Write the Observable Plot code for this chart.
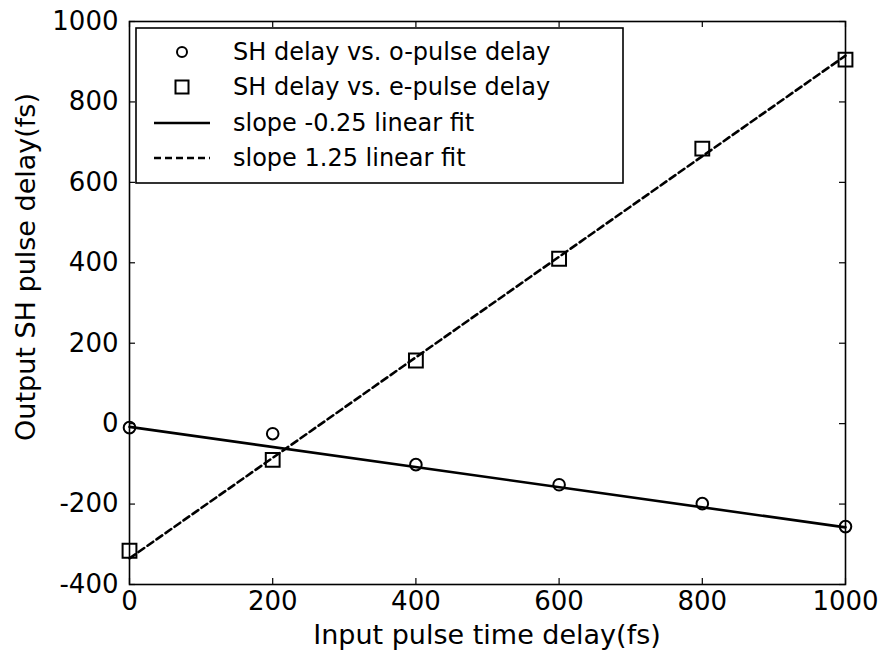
<!DOCTYPE html>
<html>
<head>
<meta charset="utf-8">
<script src="https://cdn.jsdelivr.net/npm/d3@7"></script>
<script src="https://cdn.jsdelivr.net/npm/@observablehq/plot@0.6"></script>
<style>
  html, body { margin: 0; padding: 0; background: #fff; }
  #chart svg { display: block; }
</style>
</head>
<body>
<div id="chart"></div>
<script>
// Input delays (fs) and the measured SH pulse delays (fs)
const inputDelay = [0, 200, 400, 600, 800, 1000];
const oPulseSH = [-10, -25, -102, -152, -199, -256];
const ePulseSH = [-316, -90, 157, 410, 684, 905];

// Linear fits (slopes as given in the legend)
const fitX = [0, 1000];
const oFitSlope = -0.25, oFitIntercept = -8;
const eFitSlope = 1.25, eFitIntercept = -335;

// Tick values
const xTicks = [0, 200, 400, 600, 800, 1000];
const yTicks = [-400, -200, 0, 200, 400, 600, 800, 1000];

const legendLabels = [
  "SH delay vs. o-pulse delay",
  "SH delay vs. e-pulse delay",
  "slope -0.25 linear fit",
  "slope 1.25 linear fit"
];
const xTitle = "Input pulse time delay(fs)";
const yTitle = "Output SH pulse delay(fs)";

const font = "DejaVu Sans";
const fmt = d => `${d}`;

const W = 881, H = 661;
const mL = 129, mR = 36, mT = 21, mB = 77;
const frameW = W - mL - mR, frameH = H - mT - mB;
const tickLen = 6;

const chart = Plot.plot({
  width: W,
  height: H,
  marginLeft: mL,
  marginRight: mR,
  marginTop: mT,
  marginBottom: mB,
  x: {domain: [0, 1000]},
  y: {domain: [-400, 1000]},
  style: {fontFamily: font, fontSize: "26px", background: "white", color: "black"},
  marks: [
    // inward ticks on all four sides
    Plot.tickX(xTicks, {x: d => d, insetTop: frameH - tickLen, stroke: "black", strokeWidth: 1.2}),
    Plot.tickX(xTicks, {x: d => d, insetBottom: frameH - tickLen, stroke: "black", strokeWidth: 1.2}),
    Plot.tickY(yTicks, {y: d => d, insetRight: frameW - tickLen, stroke: "black", strokeWidth: 1.2}),
    Plot.tickY(yTicks, {y: d => d, insetLeft: frameW - tickLen, stroke: "black", strokeWidth: 1.2}),
    // tick labels
    Plot.axisX(xTicks, {anchor: "bottom", tickSize: 0, tickPadding: 7, tickFormat: fmt, label: null, fontSize: 26}),
    Plot.axisY(yTicks, {anchor: "left", tickSize: 0, tickPadding: 11, tickFormat: fmt, label: null, fontSize: 26}),
    Plot.frame({stroke: "black", strokeWidth: 1.6}),
    // fit lines
    Plot.line(fitX, {x: d => d, y: d => oFitIntercept + oFitSlope * d, stroke: "black", strokeWidth: 2.6}),
    Plot.line(fitX, {x: d => d, y: d => eFitIntercept + eFitSlope * d, stroke: "black", strokeWidth: 2.6, strokeDasharray: "7,4"}),
    // measured points
    Plot.dot(inputDelay, {x: d => d, y: (d, i) => oPulseSH[i], r: 5.8, stroke: "black", strokeWidth: 2, fill: "none"}),
    Plot.dot(inputDelay, {x: d => d, y: (d, i) => ePulseSH[i], symbol: "square", r: 7.8, stroke: "black", strokeWidth: 2, fill: "none"})
  ]
});

document.getElementById("chart").append(chart);

const svg = d3.select(chart);

// axis titles
svg.append("text")
  .attr("x", mL + frameW / 2).attr("y", 644)
  .attr("text-anchor", "middle")
  .attr("font-family", font).attr("font-size", 27)
  .attr("fill", "black")
  .text(xTitle);

svg.append("text")
  .attr("transform", "translate(26,267) rotate(-90)")
  .attr("text-anchor", "middle")
  .attr("dy", "0.35em")
  .attr("font-family", font).attr("font-size", 27)
  .attr("fill", "black")
  .text(yTitle);

// legend box in the upper-left of the plot area
const lg = svg.append("g")
  .attr("font-family", font).attr("font-size", 24)
  .attr("text-anchor", "start");
lg.append("rect")
  .attr("x", 136).attr("y", 28).attr("width", 487).attr("height", 155)
  .attr("fill", "white").attr("stroke", "black").attr("stroke-width", 1.6);

const rowY = [52, 87, 123, 158];
const symX = 182;
rowY.forEach((y, i) => {
  lg.append("text")
    .attr("x", 233).attr("y", y).attr("dy", "0.35em")
    .attr("fill", "black")
    .text(legendLabels[i]);
});
lg.append("circle").attr("cx", symX).attr("cy", rowY[0]).attr("r", 5)
  .attr("fill", "none").attr("stroke", "black").attr("stroke-width", 2);
lg.append("rect").attr("x", symX - 6.5).attr("y", rowY[1] - 6.5).attr("width", 13).attr("height", 13)
  .attr("fill", "none").attr("stroke", "black").attr("stroke-width", 2);
lg.append("line").attr("x1", 154).attr("x2", 210).attr("y1", rowY[2]).attr("y2", rowY[2])
  .attr("stroke", "black").attr("stroke-width", 2.6);
lg.append("line").attr("x1", 154).attr("x2", 210).attr("y1", rowY[3]).attr("y2", rowY[3])
  .attr("stroke", "black").attr("stroke-width", 2.6).attr("stroke-dasharray", "7,4");
</script>
</body>
</html>
